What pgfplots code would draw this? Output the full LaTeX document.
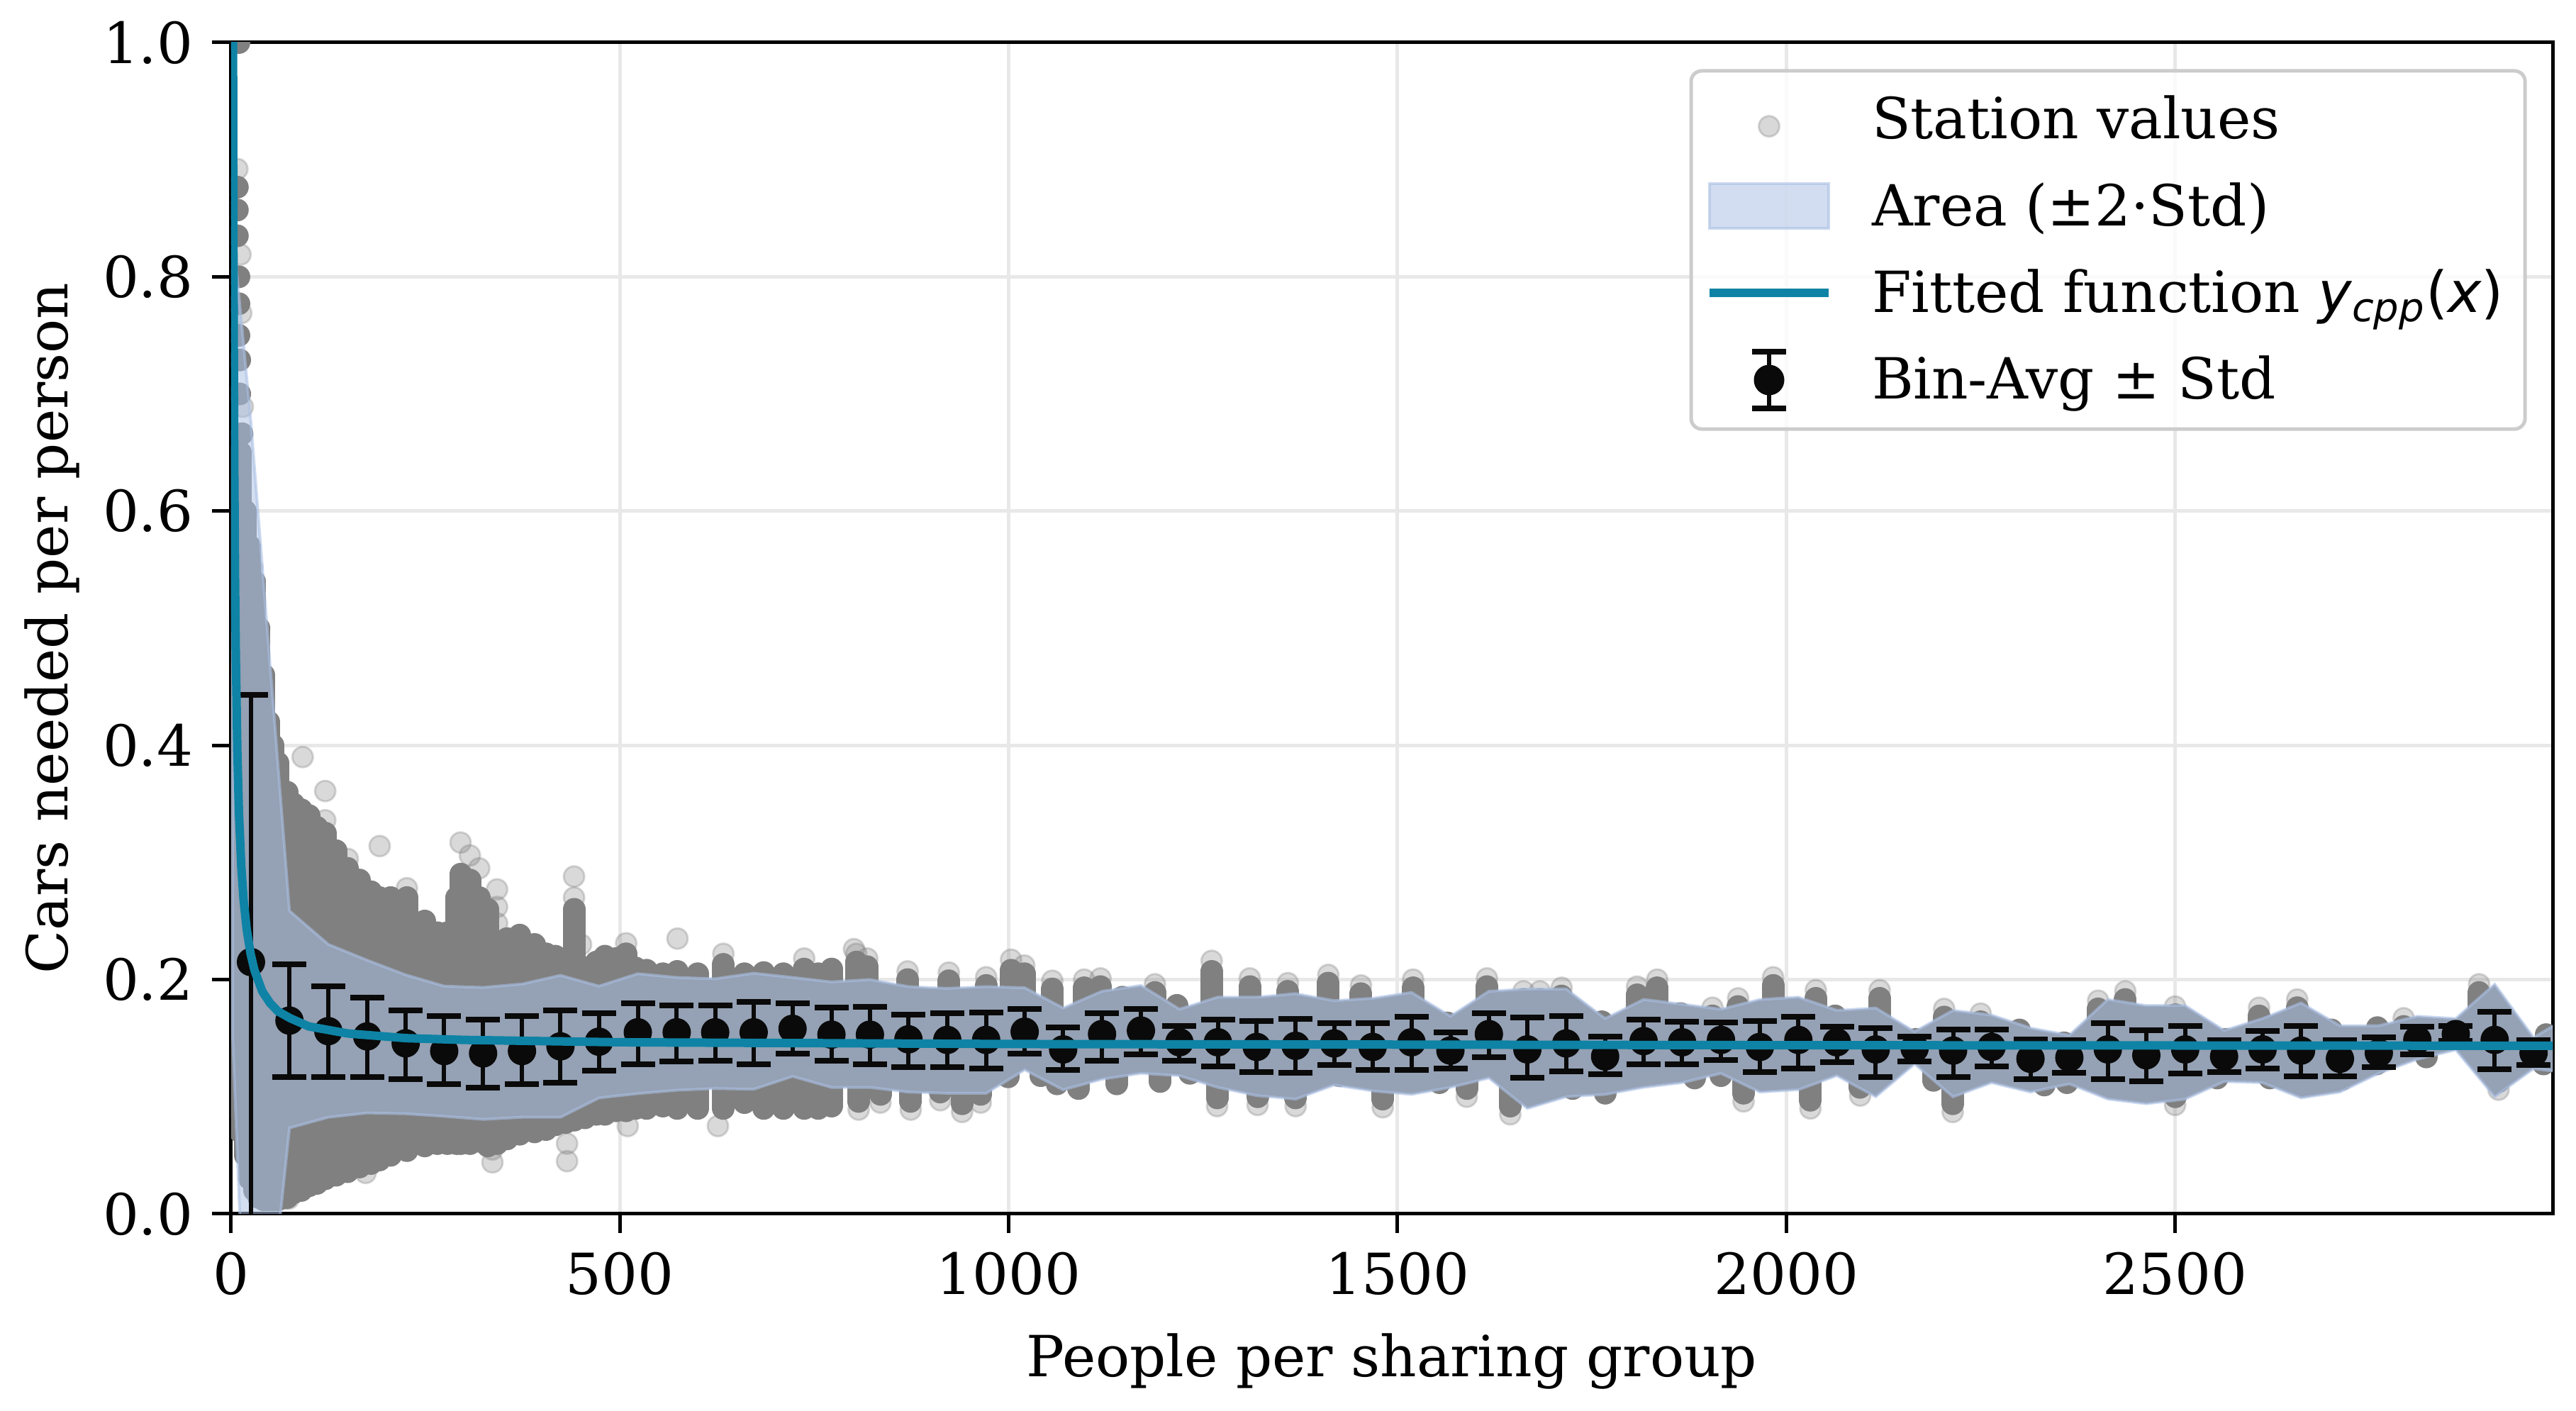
\documentclass[border=0pt]{standalone}
\usepackage{fontspec}
\setmainfont{DejaVu Serif}
\newfontfamily\dsans{DejaVu Sans}
\usepackage{pgfplots}
\usepackage{pgfplotstable}
\pgfplotsset{compat=1.18}

\definecolor{cloud}{HTML}{808080}
\definecolor{bandc}{HTML}{AAC0E4}
\definecolor{fitc}{HTML}{0E83A5}
\definecolor{gridc}{HTML}{E8E8E8}
\definecolor{legc}{HTML}{CCCCCC}
\definecolor{binc}{HTML}{0A0A0A}

% bin centre, mean, mean+std, mean-std
\pgfplotstableread{
x m t b
25.5 .215 .443 -.013
75 .165 .213 .117
125 .156 .194 .117
175 .1515 .1845 .117
224.5 .1456 .174 .115
274 .139 .169 .111
324 .137 .166 .108
374 .139 .169 .111
423.5 .143 .1735 .112
473 .147 .171 .122
523 .155 .18 .128
573 .155 .178 .130
622.5 .155 .178 .131
672 .155 .181 .128
722 .158 .18 .137
772 .153 .176 .131
821.5 .153 .177 .128
871 .149 .170 .125
921 .1485 .171 .125
971 .1485 .172 .124
1020.5 .1555 .175 .137
1070 .1404 .159 .123
1120 .1535 .171 .131
1170 .1565 .175 .136
1219.5 .1465 .1606 .131
1269 .1465 .1657 .126
1319 .1425 .1646 .121
1369 .1435 .1667 .1207
1418.5 .1455 .1626 .127
1468 .1425 .163 .123
1518 .1465 .168 .123
1568 .1394 .155 .124
1617.5 .1535 .171 .134
1667 .1404 .1677 .116
1717 .1455 .169 .1217
1767 .1344 .1515 .119
1816.5 .1475 .1657 .128
1866 .1465 .164 .128
1916 .1485 .1634 .1313
1966 .1425 .1646 .1213
2015.5 .1485 .168 .1243
2065 .1465 .1596 .1293
2115 .1404 .1586 .1166
2165 .1414 .1511 .1303
2214.5 .1394 .1572 .1166
2264 .1425 .1572 .1257
2314 .1324 .1489 .1152
2364 .1334 .1485 .1203
2413.5 .1404 .1626 .1152
2463 .1354 .157 .1132
2513 .1404 .1606 .1197
2563 .1344 .1481 .1213
2612.5 .1404 .156 .1243
2662 .1394 .1602 .1176
2712 .1324 .1481 .1176
2762 .1374 .1505 .1253
2811.5 .1485 .1596 .136
2861 .1535 .1606 .1475
2911 .1485 .1727 .1233
2961 .1374 .1485 .1273
}\bins

% outline of the area: upper edge going right, lower edge coming back
\pgfplotstableread{
x y
2 .84
25.5 .675
75 .2586
125 .230
175 .2165
224.5 .204
274 .1944
324 .1933
374 .1962
423.5 .2036
473 .1944
523 .205
573 .2018
622.5 .2007
672 .2054
722 .2018
772 .198
821.5 .2
871 .194
921 .1925
971 .194
1020.5 .193
1070 .1757
1120 .19
1170 .195
1219.5 .1747
1269 .185
1319 .185
1369 .188
1418.5 .182
1468 .184
1518 .189
1568 .1687
1617.5 .19
1667 .192
1717 .192
1767 .1667
1816.5 .183
1866 .179
1916 .1747
1966 .183
2015.5 .185
2065 .1737
2115 .1757
2165 .1556
2214.5 .1737
2264 .1697
2314 .1586
2364 .1525
2413.5 .183
2463 .1778
2513 .1778
2563 .1566
2612.5 .1667
2662 .18
2712 .1606
2762 .1606
2811.5 .1687
2861 .1667
2911 .196
2961 .1505
3011 .17
3011 .12
2961 .124
2911 .100
2861 .14
2811.5 .132
2762 .120
2712 .104
2662 .099
2612.5 .112
2563 .113
2513 .098
2463 .094
2413.5 .098
2364 .111
2314 .104
2264 .112
2214.5 .100
2165 .128
2115 .100
2065 .118
2015.5 .106
1966 .104
1916 .120
1866 .112
1816.5 .108
1767 .102
1717 .100
1667 .09
1617.5 .116
1568 .108
1518 .102
1468 .105
1418.5 .110
1369 .098
1319 .101
1269 .108
1219.5 .118
1170 .12
1120 .115
1070 .106
1020.5 .123
971 .103
921 .103
871 .104
821.5 .108
772 .108
722 .1174
672 .1064
622.5 .107
573 .1056
523 .1027
473 .099
423.5 .0825
374 .0825
324 .0807
274 .0833
224.5 .0855
175 .0862
125 .0825
75 .0734
25.5 -.24
2 .15
}\band

% dense columns of station values: x, lowest, highest
\pgfplotstableread{
x l h
6 .09 .66
12 .07 .65
18 .05 .60
24 .03 .57
30 .02 .54
36 .014 .50
42 .012 .46
48 .012 .42
54 .012 .40
60 .012 .385
66 .014 .36
72 .014 .36
80 .018 .35
90 .02 .345
100 .024 .34
110 .026 .33
121 .03 .325
135 .033 .31
150 .036 .295
165 .04 .285
180 .043 .275
191 .046 .27
205 .05 .27
226 .054 .27
249 .058 .25
265 .06 .24
278 .06 .24
290 .06 .27
295 .06 .29
307 .06 .285
319 .062 .27
330 .058 .26
342 .06 .228
355 .064 .235
371 .068 .238
390 .07 .23
405 .072 .222
417 .076 .22
430 .078 .21
441 .08 .26
455 .082 .21
470 .085 .215
481 .085 .22
495 .088 .218
508 .088 .222
520 .09 .21
534 .09 .208
555 .092 .205
574 .09 .207
600 .09 .205
633 .09 .213
660 .095 .205
685 .09 .206
710 .09 .205
737 .09 .209
755 .09 .205
772 .092 .209
804 .145 .215
818 .145 .211
870 .145 .200
923 .145 .199
971 .145 .195
1003 .145 .208
1020 .145 .205
1056 .145 .192
1097 .145 .193
1118 .145 .194
1146 .145 .185
1188 .145 .189
1216 .145 .178
1261 .145 .207
1310 .145 .194
1359 .145 .190
1411 .145 .197
1453 .145 .188
1520 .145 .193
1564 .145 .163
1615 .145 .194
1662 .145 .183
1683 .145 .183
1711 .145 .186
1763 .145 .164
1808 .145 .187
1834 .145 .193
1864 .145 .171
1905 .145 .169
1938 .145 .177
1983 .145 .195
2038 .145 .184
2063 .145 .169
2120 .145 .184
2167 .145 .149
2203 .145 .168
2250 .145 .164
2300 .145 .157
2357 .145 .146
2401 .145 .175
2436 .145 .183
2500 .145 .170
2565 .145 .149
2608 .145 .169
2657 .145 .176
2701 .145 .157
2760 .145 .159
2794 .145 .160
2891 .145 .189
2977 .145 .153
807 .096 .145
835 .102 .145
874 .096 .145
912 .104 .145
940 .094 .145
964 .102 .145
999 .117 .145
1041 .118 .145
1062 .111 .145
1090 .107 .145
1139 .111 .145
1195 .113 .145
1233 .120 .145
1268 .099 .145
1320 .100 .145
1369 .099 .145
1425 .118 .145
1481 .098 .145
1554 .112 .145
1589 .107 .145
1645 .092 .145
1725 .107 .145
1767 .103 .145
1830 .120 .145
1882 .116 .145
1916 .118 .145
1945 .103 .145
2031 .097 .145
2095 .108 .145
2189 .114 .145
2214 .094 .145
2264 .122 .145
2332 .110 .145
2361 .112 .145
2500 .100 .145
2554 .116 .145
2622 .116 .145
2665 .114 .145
2715 .115 .145
2759 .128 .145
2823 .134 .145
2916 .113 .145
2974 .128 .145
}\stacks

% stations piled on one spot near the left edge
\pgfplotstableread{
x y
10 1.0
8 .8765
8 .857
8 .835
10 .80
10 .777
10 .75
11 .729
11 .70
14 .666
}\piled

% single stations at the rim of the cloud
\pgfplotstableread{
x y
8 .892
12 .819
13 .769
15 .689
27 .552
36 .50
92 .39
121 .361
121 .336
150 .303
191 .314
226 .278
295 .317
307 .306
319 .295
342 .277
342 .262
342 .248
441 .288
441 .27
450 .23
508 .231
574 .235
633 .222
737 .218
801 .226
69 .013
74 .013
121 .031
173 .035
336 .044
336 .055
432 .045
432 .06
510 .075
626 .075
804 .222
818 .218
870 .207
923 .206
971 .202
1003 .217
1020 .212
1056 .199
1097 .200
1118 .201
1188 .196
1261 .216
1261 .205
1310 .201
1359 .197
1411 .204
1453 .195
1520 .200
1615 .201
1662 .190
1683 .190
1711 .193
1808 .194
1834 .200
1905 .176
1938 .184
1983 .202
1983 .192
2038 .191
2120 .191
2203 .175
2250 .171
2401 .182
2436 .190
2500 .177
2608 .176
2657 .183
2794 .167
2891 .196
807 .089
835 .095
874 .089
912 .097
940 .087
964 .095
1268 .092
1320 .093
1369 .092
1481 .091
1589 .100
1645 .085
1645 .092
1945 .096
2031 .090
2095 .101
2214 .087
2214 .095
2500 .093
2916 .106
}\rim

% fitted curve
\pgfplotstableread{
x y
2 1.14
3 .81
4 .64
5 .5435
6 .477
8 .394
10 .343
13 .297
16 .268
20 .243
25 .222
30 .208
40 .19
50 .18
60 .173
76 .167
100 .160
150 .154
225 .150
300 .1485
500 .1465
1000 .1450
1500 .1445
2000 .144
3000 .1435
}\fitline

\pgfplotsset{
  layers/mine/.define layer set={axis background,axis grid,pre main,main,axis ticks,axis lines,axis tick labels,axis descriptions,axis foreground}{},
}

\begin{document}
\begin{tikzpicture}
\begin{axis}[
    set layers=mine,
    clip marker paths=true,
    scale only axis,
    width=654.8pt, height=330.4pt,
    xmin=0, xmax=2985.5, ymin=0, ymax=1,
    xtick={0,500,1000,1500,2000,2500},
    ytick={0,0.2,0.4,0.6,0.8,1},
    xtick pos=left, ytick pos=left,
    tick align=outside,
    major tick length=5.4pt,
    tick style={black, line width=1pt},
    axis line style={line width=1pt},
    grid=major,
    grid style={gridc, line width=1pt},
    x tick label style={yshift=-1.8pt, /pgf/number format/1000 sep={}},
    y tick label style={xshift=-1.8pt, /pgf/number format/fixed, /pgf/number format/fixed zerofill, /pgf/number format/precision=1},
    /pgf/number format/assume math mode=true,
    tick label style={font=\fontsize{16}{18}\selectfont},
    label style={font=\fontsize{16}{18}\selectfont},
    xlabel={People per sharing group},
    ylabel={Cars needed per person},
    xlabel style={at={(axis description cs:0.5,0)}, anchor=base, yshift=-46pt},
    ylabel style={at={(axis description cs:0,0.5)}, anchor=base, yshift=46pt},
    legend style={
        at={(0.9889,0.9773)}, anchor=north east,
        draw=legc, line width=1pt, rounded corners=3pt,
        fill=white, fill opacity=.8, text opacity=1,
        font=\fontsize{16}{18}\selectfont,
        inner xsep=4pt, inner ysep=5pt,
        row sep=6.8pt,
        /tikz/every even column/.append style={column sep=2pt},
        /tikz/every odd column/.append style={column sep=9pt},
    },
    legend cell align=left,
]

% station values
\addplot[draw=none, mark=none, forget plot,
    error bars/.cd, y dir=plus, y explicit, error mark=none,
    error bar style={draw=cloud, line width=6.4pt, line cap=round}]
    table[x=x, y=l, y error plus expr=\thisrow{h}-\thisrow{l}] {\stacks};
\addplot[only marks, mark=*, mark size=2.9pt, forget plot,
    mark options={fill=cloud, draw=cloud, line width=.6pt}] table {\piled};
\addplot[only marks, mark=*, mark size=2.9pt, forget plot,
    mark options={fill=cloud, draw=cloud, fill opacity=.3, draw opacity=.3, line width=.6pt}] table {\rim};
\addplot[fill=cloud, draw=none, forget plot, restrict x to domain=74:3020] table {\band} -- cycle;

% area
\addplot[fill=bandc, fill opacity=.52, draw=bandc, draw opacity=.6, line width=.8pt, forget plot] table {\band} -- cycle;

% bins
\addplot[only marks, mark=*, mark size=3.8pt, mark options={fill=binc, draw=binc}, forget plot,
    error bars/.cd, y dir=both, y explicit,
    error bar style={binc, line width=1.2pt},
    error mark options={rotate=90, binc, mark size=4.8pt, line width=1.6pt}]
    table[x=x, y=m, y error plus expr=\thisrow{t}-\thisrow{m}, y error minus expr=\thisrow{m}-\thisrow{b}] {\bins};

% fit
\addplot[fitc, line width=2.4pt, forget plot] table {\fitline};

\addlegendimage{legend image code/.code={
    \fill[cloud, fill opacity=.3, draw=cloud, draw opacity=.3, line width=.6pt] (16.8pt,-1.8pt) circle (2.9pt);}}
\addlegendentry{Station values}
\addlegendimage{legend image code/.code={
    \fill[sharp corners, bandc, fill opacity=.52, draw=bandc, draw opacity=.6, line width=.8pt] (0pt,-6.2pt) rectangle (33.6pt,6.5pt);}}
\addlegendentry{Area (±2·Std)}
\addlegendimage{legend image code/.code={
    \draw[fitc, sharp corners, line width=2.4pt] (0pt,.2pt) -- (33.6pt,.2pt);}}
\addlegendentry{Fitted function {\dsans\itshape y\textsubscript{cpp}\upshape(\itshape x\upshape)}}
\addlegendimage{legend image code/.code={
    \draw[binc, line width=1.2pt] (16.8pt,-8pt) -- (16.8pt,8pt);
    \draw[binc, line width=1.6pt] (12pt,-8pt) -- (21.6pt,-8pt) (12pt,8pt) -- (21.6pt,8pt);
    \fill[binc, fill opacity=1] (16.8pt,0pt) circle (3.8pt);}}
\addlegendentry{Bin-Avg ± Std}

\end{axis}
\pgfresetboundingbox
\useasboundingbox (-65.2pt,-55.6pt) rectangle (661.4pt,342.4pt);
\end{tikzpicture}
\end{document}
